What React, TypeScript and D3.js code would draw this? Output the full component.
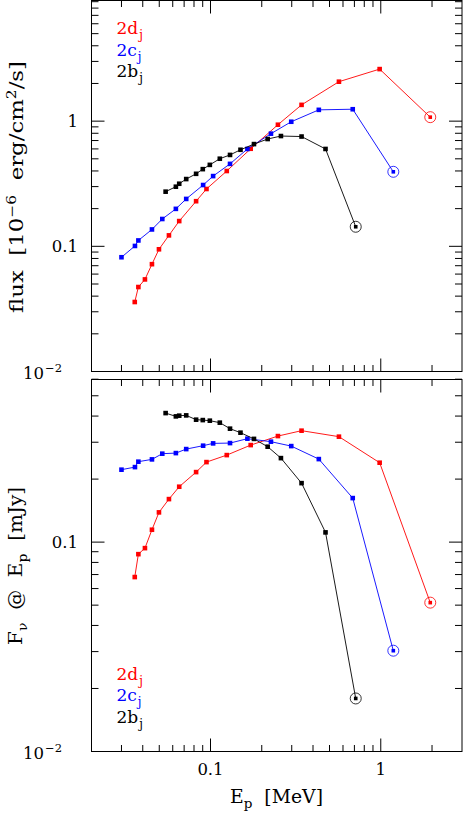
import React from "react";
import * as d3 from "d3";

// ---- data (E_p in MeV) ----
const seriesLabels = ["2d", "2c", "2b"];
const seriesColors = ["#ff0000", "#0000ff", "#000000"];

const energy2d = [0.0359, 0.0377, 0.0412, 0.0453, 0.0498, 0.057, 0.0655, 0.0823, 0.0947, 0.1246, 0.1722, 0.2489, 0.3426, 0.568, 0.985, 1.953];
const flux2d = [0.0359, 0.0473, 0.0544, 0.072, 0.0947, 0.1223, 0.1591, 0.2293, 0.2871, 0.3996, 0.6017, 0.9364, 1.349, 2.066, 2.605, 1.076];
const fnu2d = [0.0681, 0.0876, 0.0936, 0.1146, 0.1387, 0.1605, 0.1839, 0.216, 0.2411, 0.2604, 0.2907, 0.321, 0.3406, 0.3189, 0.2395, 0.0514];

const energy2c = [0.03, 0.036, 0.0377, 0.0453, 0.0521, 0.0626, 0.072, 0.0905, 0.1036, 0.1302, 0.1647, 0.2265, 0.298, 0.4327, 0.6845, 1.185];
const flux2c = [0.0818, 0.1007, 0.1114, 0.1364, 0.1653, 0.1992, 0.2391, 0.3088, 0.364, 0.4557, 0.5995, 0.7943, 0.989, 1.231, 1.245, 0.3938];
const fnu2c = [0.2218, 0.2282, 0.2422, 0.2484, 0.2645, 0.2662, 0.2782, 0.2888, 0.2962, 0.2972, 0.3119, 0.3018, 0.2875, 0.2492, 0.1623, 0.0303];

const energy2b = [0.0545, 0.0626, 0.0655, 0.072, 0.0823, 0.0901, 0.0991, 0.1134, 0.1302, 0.15, 0.18, 0.2166, 0.2592, 0.3426, 0.4737, 0.7128];
const flux2b = [0.2733, 0.2994, 0.3162, 0.3446, 0.3796, 0.4136, 0.4474, 0.501, 0.5372, 0.5906, 0.6557, 0.7197, 0.7603, 0.7534, 0.5995, 0.1433];
const fnu2b = [0.4133, 0.3986, 0.4017, 0.403, 0.3844, 0.3827, 0.3802, 0.372, 0.3482, 0.3332, 0.3112, 0.2856, 0.2519, 0.1913, 0.1113, 0.01792];

const xMajorTicks = [0.1, 1];
const xMinorTicks = [0.03, 0.04, 0.05, 0.06, 0.07, 0.08, 0.09, 0.2, 0.3, 0.4, 0.5, 0.6, 0.7, 0.8, 0.9, 2];
const xTickLabels = ["0.1", "1"];

const topMajorTicks = [0.01, 0.1, 1];
const topMinorTicks = [0.02, 0.03, 0.04, 0.05, 0.06, 0.07, 0.08, 0.09, 0.2, 0.3, 0.4, 0.5, 0.6, 0.7, 0.8, 0.9, 2, 3, 4, 5, 6, 7, 8, 9];
const botMajorTicks = [0.01, 0.1];
const botMinorTicks = [0.02, 0.03, 0.04, 0.05, 0.06, 0.07, 0.08, 0.09, 0.2, 0.3, 0.4, 0.5, 0.6];

const W = 463;
const H = 814;
const FONT = "'DejaVu Serif', serif";

const L = 91.5;
const R = 462;
const topPanel = { y0: 0.5, y1: 371.5, domain: [0.01, 9.2] };
const botPanel = { y0: 379.5, y1: 751.5, domain: [0.01, 0.598] };

const x = d3.scaleLog().domain([0.02, 3]).range([L, R]);
const yTop = d3.scaleLog().domain(topPanel.domain).range([topPanel.y1, topPanel.y0]);
const yBot = d3.scaleLog().domain(botPanel.domain).range([botPanel.y1, botPanel.y0]);

const topSeries = [
  { e: energy2d, v: flux2d },
  { e: energy2c, v: flux2c },
  { e: energy2b, v: flux2b },
];
const botSeries = [
  { e: energy2d, v: fnu2d },
  { e: energy2c, v: fnu2c },
  { e: energy2b, v: fnu2b },
];

const pre = { whiteSpace: "pre" as const };

function Panel({ y, p, series, legendY }: any) {
  const line = d3.line<[number, number]>().x((d) => x(d[0])).y((d) => y(d[1]));
  const majX = 13, minX = 6.5, majY = 13, minY = 7;
  return (
    <g>
      <rect x={L} y={p.y0} width={R - L} height={p.y1 - p.y0} fill="none" stroke="#000" strokeWidth={1} />
      {xMajorTicks.map((t, i) => (
        <g key={"xM" + i}>
          <line x1={x(t)} x2={x(t)} y1={p.y1} y2={p.y1 - majX} stroke="#000" strokeWidth={1} />
          <line x1={x(t)} x2={x(t)} y1={p.y0} y2={p.y0 + majX} stroke="#000" strokeWidth={1} />
        </g>
      ))}
      {xMinorTicks.map((t, i) => (
        <g key={"xm" + i}>
          <line x1={x(t)} x2={x(t)} y1={p.y1} y2={p.y1 - minX} stroke="#000" strokeWidth={1} />
          <line x1={x(t)} x2={x(t)} y1={p.y0} y2={p.y0 + minX} stroke="#000" strokeWidth={1} />
        </g>
      ))}
      {p.major.map((t: number, i: number) => (
        <g key={"yM" + i}>
          <line x1={L} x2={L + majY} y1={y(t)} y2={y(t)} stroke="#000" strokeWidth={1} />
          <line x1={R} x2={R - majY} y1={y(t)} y2={y(t)} stroke="#000" strokeWidth={1} />
        </g>
      ))}
      {p.minor.map((t: number, i: number) => (
        <g key={"ym" + i}>
          <line x1={L} x2={L + minY} y1={y(t)} y2={y(t)} stroke="#000" strokeWidth={1} />
          <line x1={R} x2={R - minY} y1={y(t)} y2={y(t)} stroke="#000" strokeWidth={1} />
        </g>
      ))}
      {p.labels.map((lb: any, i: number) =>
        lb.t === 0.01 ? (
          <text key={"yl" + i} x={62} y={y(lb.t) + 7} textAnchor="end" fontFamily={FONT} fontSize={16.5}>
            10
            <tspan fontSize={11.5} dy={-7} dx={1}>{"−2"}</tspan>
          </text>
        ) : (
          <text key={"yl" + i} x={78} y={y(lb.t) + 6} textAnchor="end" fontFamily={FONT} fontSize={16.5}>
            {lb.s}
          </text>
        )
      )}
      {series.map((s: any, si: number) => {
        const pts: [number, number][] = s.e.map((e: number, k: number) => [e, s.v[k]]);
        const last = pts[pts.length - 1];
        return (
          <g key={"s" + si}>
            <path d={line(pts) || ""} fill="none" stroke={seriesColors[si]} strokeWidth={0.9} />
            {pts.slice(0, -1).map((d, k) => (
              <rect key={k} x={x(d[0]) - 2.3} y={y(d[1]) - 2.3} width={4.6} height={4.6} fill={seriesColors[si]} />
            ))}
            <rect x={x(last[0]) - 1.8} y={y(last[1]) - 1.8} width={3.6} height={3.6} fill={seriesColors[si]} />
            <circle cx={x(last[0])} cy={y(last[1])} r={5.5} fill="none" stroke={seriesColors[si]} strokeWidth={0.8} />
          </g>
        );
      })}
      {seriesLabels.map((lab, i) => (
        <text key={"lg" + i} x={116.5} y={legendY + i * 21.5} fontFamily={FONT} fontSize={17} fill={seriesColors[i]}>
          {lab}
          <tspan fontSize={12} dy={5} dx={1}>j</tspan>
        </text>
      ))}
    </g>
  );
}

export default function App() {
  const topP = { ...topPanel, major: topMajorTicks, minor: topMinorTicks, labels: [{ t: 1, s: "1" }, { t: 0.1, s: "0.1" }, { t: 0.01, s: "" }] };
  const botP = { ...botPanel, major: botMajorTicks, minor: botMinorTicks, labels: [{ t: 0.1, s: "0.1" }, { t: 0.01, s: "" }] };
  const topMid = 187;
  const botMid = 566;
  return (
    <svg width={W} height={H} style={{ position: "absolute", left: 0, top: 0, background: "#fff" }}>
      <rect x={0} y={0} width={W} height={H} fill="#fff" />
      <Panel y={yTop} p={topP} series={topSeries} legendY={34} />
      <Panel y={yBot} p={botP} series={botSeries} legendY={679.5} />
      {xMajorTicks.map((t, i) => (
        <text key={"xl" + i} x={x(t)} y={775} textAnchor="middle" fontFamily={FONT} fontSize={16.5}>
          {xTickLabels[i]}
        </text>
      ))}
      <text x={230} y={803} fontFamily={FONT} fontSize={18} textLength={93} lengthAdjust="spacingAndGlyphs" style={pre}>
        E<tspan fontSize={13} dy={5}>p</tspan>
        <tspan dy={-5}>{"  [MeV]"}</tspan>
      </text>
      <text transform={`translate(23,${topMid}) rotate(-90)`} x={-126} y={0} fontFamily={FONT} fontSize={18.5} textLength={252} lengthAdjust="spacingAndGlyphs" style={pre}>
        {"flux  [10"}
        <tspan fontSize={12.5} dy={-7}>{"−6"}</tspan>
        <tspan dy={7}>{"  erg/cm"}</tspan>
        <tspan fontSize={12.5} dy={-7}>2</tspan>
        <tspan dy={7}>{"/s]"}</tspan>
      </text>
      <text transform={`translate(22,${botMid}) rotate(-90)`} x={-79} y={0} fontFamily={FONT} fontSize={18.5} textLength={158} lengthAdjust="spacingAndGlyphs" style={pre}>
        F<tspan fontSize={13} dy={5}>{"ν"}</tspan>
        <tspan dy={-5}>{"  @  E"}</tspan>
        <tspan fontSize={13} dy={5}>p</tspan>
        <tspan dy={-5}>{"  [mJy]"}</tspan>
      </text>
    </svg>
  );
}
